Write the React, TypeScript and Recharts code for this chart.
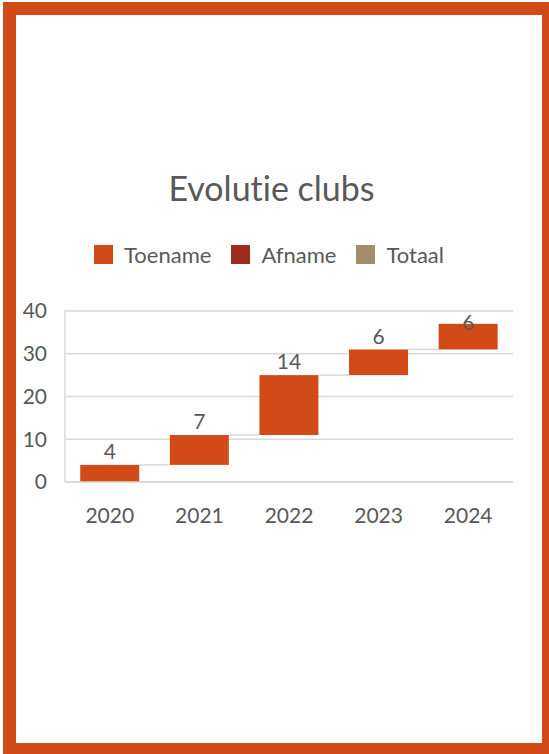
import { Bar, BarChart, CartesianGrid, LabelList, Legend, XAxis, YAxis } from "recharts";

const years = ["2020", "2021", "2022", "2023", "2024"];
const toename = [4, 7, 14, 6, 6];
const afname = [0, 0, 0, 0, 0];
const totaal = [0, 0, 0, 0, 0];
const seriesNames = ["Toename", "Afname", "Totaal"];
const yTicks = [0, 10, 20, 30, 40];

const ORANGE = "#D24A18";
const RED = "#9D2B20";
const TAN = "#A48D6B";
const TEXT = "#595959";
const GRID = "#D9D9D9";
const FONT = "Lato, 'Open Sans', sans-serif";
const GAP = 0.17;
const PLOT_TOP = 311;

// running total under each increase -> invisible base of the waterfall
const base = toename.map((_, i) => toename.slice(0, i).reduce((a, b) => a + b, 0));

const data = years.map((year, i) => ({
  year,
  base: base[i],
  toename: toename[i],
  afname: afname[i],
  totaal: totaal[i],
}));

function StepBar(props: any) {
  const { x, y, width, height, index, fill } = props;
  const gap = (width * 2 * GAP) / (1 - 2 * GAP);
  return (
    <g>
      {index < years.length - 1 && (
        <line x1={x + width} x2={x + width + gap} y1={y} y2={y} stroke={GRID} strokeWidth={1.5} />
      )}
      <rect x={x} y={y} width={width} height={height} fill={fill} />
    </g>
  );
}

function ValueLabel(props: any) {
  const { x, y, width, value } = props;
  const ty = Math.max(y - 13, PLOT_TOP + 12);
  return (
    <text x={x + width / 2} y={ty} dy="0.35em" textAnchor="middle" fill={TEXT} fontSize={21} fontFamily={FONT}>
      {value}
    </text>
  );
}

function LegendBox({ payload }: any) {
  const items = (payload || [])
    .filter((p: any) => p.type !== "none")
    .sort((a: any, b: any) => seriesNames.indexOf(a.value) - seriesNames.indexOf(b.value));
  return (
    <div style={{ display: "flex", justifyContent: "center", height: 69, fontFamily: FONT, fontSize: 22, color: TEXT }}>
      {items.map((p: any) => (
        <div key={p.value} style={{ display: "flex", alignItems: "center", margin: "0 10px", height: 24 }}>
          <span style={{ width: 19, height: 19, background: p.color, marginRight: 11, display: "inline-block" }} />
          {p.value}
        </div>
      ))}
    </div>
  );
}

export default function App() {
  return (
    <div style={{ position: "absolute", left: 0, top: 0, width: 549, height: 754, background: "#fff" }}>
      <div style={{ position: "absolute", left: 3, top: 2, width: 546, height: 752, background: ORANGE }} />
      <div style={{ position: "absolute", left: 16, top: 15, width: 526, height: 728, background: "#fff" }} />
      <div
        style={{
          position: "absolute",
          left: 0,
          width: 543,
          top: 167,
          textAlign: "center",
          fontFamily: FONT,
          fontSize: 34,
          color: TEXT,
          fontVariantLigatures: "none",
        }}
      >
        Evolutie clubs
      </div>
      <div style={{ position: "absolute", left: 0, top: 0 }}>
        <BarChart
          width={549}
          height={560}
          data={data}
          barCategoryGap={`${GAP * 100}%`}
          margin={{ top: 242, right: 36, left: 25, bottom: 38 }}
        >
          <CartesianGrid vertical={false} stroke={GRID} strokeWidth={1.5} />
          <XAxis
            dataKey="year"
            height={40}
            tickLine={false}
            axisLine={{ stroke: GRID, strokeWidth: 1.5 }}
            tickMargin={20}
            tick={{ fill: TEXT, fontSize: 21, fontFamily: FONT }}
          />
          <YAxis
            width={40}
            domain={[0, 40]}
            ticks={yTicks}
            tickLine={false}
            axisLine={{ stroke: GRID, strokeWidth: 1.5 }}
            tickMargin={12}
            tick={{ fill: TEXT, fontSize: 21, fontFamily: FONT }}
          />
          <Legend verticalAlign="top" content={<LegendBox />} />
          <Bar dataKey="base" stackId="w" fill="transparent" legendType="none" isAnimationActive={false} />
          <Bar
            dataKey="toename"
            name="Toename"
            stackId="w"
            fill={ORANGE}
            shape={<StepBar />}
            isAnimationActive={false}
          >
            <LabelList dataKey="toename" content={<ValueLabel />} />
          </Bar>
          <Bar dataKey="afname" name="Afname" stackId="w" fill={RED} isAnimationActive={false} />
          <Bar dataKey="totaal" name="Totaal" stackId="w" fill={TAN} isAnimationActive={false} />
        </BarChart>
      </div>
    </div>
  );
}
